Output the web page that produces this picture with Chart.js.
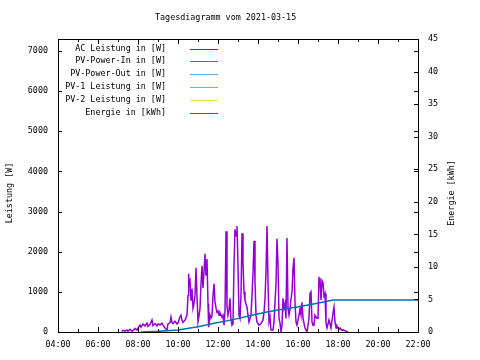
<!DOCTYPE html>
<html>
<head>
<meta charset="utf-8">
<title>Tagesdiagramm vom 2021-03-15</title>
<script src="https://cdn.jsdelivr.net/npm/chart.js@4"></script>
<style>
  html, body { margin: 0; padding: 0; background: #fff; }
</style>
</head>
<body>
<canvas id="myChart" width="480" height="360"></canvas>
<script>
// AC power readings (time of day, watts)
const acTimes = [
  '07:12', '07:15', '07:21', '07:27', '07:30', '07:36', '07:42', '07:48', '07:51', '07:57',
  '08:00', '08:06', '08:09', '08:15', '08:21', '08:27', '08:30', '08:36', '08:42', '08:45',
  '08:51', '08:57', '09:00', '09:06', '09:12', '09:15', '09:21', '09:27', '09:30', '09:36',
  '09:39', '09:42', '09:45', '09:51', '09:57', '10:00', '10:06', '10:09', '10:12', '10:15',
  '10:21', '10:27', '10:30', '10:32', '10:33', '10:36', '10:39', '10:42', '10:45', '10:48',
  '10:51', '10:54', '10:57', '11:00', '11:03', '11:06', '11:09', '11:12', '11:15', '11:18',
  '11:21', '11:24', '11:27', '11:30', '11:32', '11:36', '11:39', '11:42', '11:45', '11:48',
  '11:51', '11:54', '11:57', '12:00', '12:03', '12:06', '12:12', '12:15', '12:18', '12:21',
  '12:24', '12:27', '12:30', '12:33', '12:36', '12:39', '12:42', '12:45', '12:48', '12:51',
  '12:54', '12:57', '13:00', '13:03', '13:06', '13:09', '13:12', '13:15', '13:18', '13:21',
  '13:27', '13:30', '13:33', '13:39', '13:42', '13:45', '13:48', '13:51', '13:54', '13:57',
  '14:03', '14:09', '14:15', '14:18', '14:21', '14:24', '14:27', '14:30', '14:33', '14:36',
  '14:39', '14:45', '14:48', '14:51', '14:54', '14:57', '15:00', '15:03', '15:06', '15:09',
  '15:12', '15:15', '15:18', '15:21', '15:24', '15:27', '15:30', '15:33', '15:36', '15:39',
  '15:42', '15:45', '15:48', '15:51', '15:54', '15:57', '16:03', '16:06', '16:09', '16:12',
  '16:15', '16:21', '16:27', '16:30', '16:33', '16:36', '16:39', '16:42', '16:45', '16:48',
  '16:51', '16:57', '17:00', '17:03', '17:06', '17:09', '17:12', '17:15', '17:18', '17:21',
  '17:24', '17:27', '17:33', '17:39', '17:45', '17:48', '17:51', '17:54', '17:57', '18:03',
  '18:06', '18:12', '18:15', '18:21', '18:27', '18:30'
];
const acPower = [
  10, 40, 20, 50, 20, 70, 20, 60, 90, 50,
  100, 170, 120, 200, 150, 220, 140, 190, 300, 160,
  210, 150, 200, 180, 220, 170, 100, 50, 200, 230,
  370, 240, 210, 270, 200, 230, 380, 420, 300, 240,
  290, 420, 910, 1450, 1200, 1280, 800, 1080, 590, 700,
  900, 1600, 900, 250, 400, 590, 1200, 1650, 1100, 1500,
  1950, 1400, 1820, 700, 120, 420, 350, 400, 910, 1200,
  750, 600, 490, 520, 420, 480, 370, 420, 170, 500,
  2510, 650, 420, 550, 840, 300, 170, 200, 1650, 2560,
  2400, 2640, 1650, 420, 340, 910, 2460, 1720, 1000, 780,
  620, 420, 250, 420, 900, 1480, 2270, 1250, 420, 250,
  170, 210, 300, 490, 830, 1500, 2640, 1250, 250, 370,
  50, 50, 250, 740, 1200, 2320, 1720, 340, 220, 0,
  170, 840, 600, 700, 340, 2340, 600, 420, 560, 830,
  990, 1580, 1850, 740, 250, 170, 420, 580, 420, 740,
  340, 100, 0, 170, 340, 960, 1000, 250, 170, 170,
  420, 340, 340, 1350, 1330, 800, 1280, 1230, 900, 960,
  220, 100, 300, 100, 470, 620, 250, 100, 150, 60,
  100, 40, 60, 30, 10, 0
];

// accumulated energy (time of day, kWh)
const energyTimes = ['08:09', '09:00', '10:00', '11:00', '11:45', '12:45', '13:45', '14:30', '15:06', '16:06', '17:06', '17:45', '22:00'];
const energyValues = [0, 0.1, 0.3, 0.8, 1.3, 1.9, 2.6, 3.1, 3.4, 3.9, 4.5, 4.9, 4.9];

const timeLabels = ['04:00', '06:00', '08:00', '10:00', '12:00', '14:00', '16:00', '18:00', '20:00', '22:00'];
const powerTicks = [0, 1000, 2000, 3000, 4000, 5000, 6000, 7000];
const energyTicks = [0, 5, 10, 15, 20, 25, 30, 35, 40, 45];
const seriesNames = ['AC Leistung in [W]', 'PV-Power-In in [W]', 'PV-Power-Out in [W]', 'PV-1 Leistung in [W]', 'PV-2 Leistung in [W]', 'Energie in [kWh]'];
const seriesColors = ['#9400d3', '#009e73', '#56b4e9', '#e69f00', '#f0e442', '#0072b2'];
const chartTitle = 'Tagesdiagramm vom 2021-03-15';

const fontName = "'DejaVu Sans Mono', 'Liberation Mono', monospace";
const fontSize = 8.4;
Chart.defaults.font.family = fontName;
Chart.defaults.font.size = fontSize;
Chart.defaults.color = '#000';

function toHours(t) {
    const p = t.split(':');
    return Number(p[0]) + Number(p[1]) / 60;
}

function toPoints(times, values) {
    return times.map((t, i) => ({ x: toHours(t), y: values[i] }));
}

/**
 * gnuplot style frame: border, inward tics, title and rotated axis titles
 */
const gnuFrame = {
    id: 'gnuFrame',
    afterDraw(chart) {
        const ctx = chart.ctx;
        const a = chart.chartArea;
        const sx = chart.scales.x, sy = chart.scales.y, sy2 = chart.scales.y2;
        ctx.save();
        ctx.strokeStyle = '#000';
        ctx.lineWidth = 1;
        ctx.beginPath();
        for (let h = 4; h <= 22; h++) {
            const x = Math.round(sx.getPixelForValue(h)) + 0.5;
            const len = h % 2 === 0 ? 5 : 3;
            ctx.moveTo(x, a.bottom); ctx.lineTo(x, a.bottom - len);
            ctx.moveTo(x, a.top); ctx.lineTo(x, a.top + len);
        }
        powerTicks.forEach((v) => {
            const y = Math.round(sy.getPixelForValue(v)) + 0.5;
            ctx.moveTo(a.left, y); ctx.lineTo(a.left + 4, y);
            ctx.moveTo(a.right, y); ctx.lineTo(a.right - 4, y);
        });
        energyTicks.forEach((v) => {
            const y = Math.round(sy2.getPixelForValue(v)) + 0.5;
            ctx.moveTo(a.right, y); ctx.lineTo(a.right - 4, y);
        });
        ctx.stroke();
        ctx.strokeRect(Math.round(a.left) + 0.5, Math.round(a.top) + 0.5,
            Math.round(a.right - a.left), Math.round(a.bottom - a.top));

        ctx.fillStyle = '#000';
        ctx.font = fontSize + 'px ' + fontName;
        ctx.textAlign = 'left';
        ctx.textBaseline = 'middle';
        ctx.fillText(chartTitle, 155, 18);

        ctx.textAlign = 'center';
        ctx.translate(10, 193);
        ctx.rotate(-Math.PI / 2);
        ctx.fillText('Leistung [W]', 0, 0);
        ctx.rotate(Math.PI / 2);
        ctx.translate(442, 0);
        ctx.rotate(-Math.PI / 2);
        ctx.fillText('Energie [kWh]', 0, 0);
        ctx.restore();
    }
};

/**
 * gnuplot style key: right aligned text followed by a line sample
 */
const gnuLegend = {
    id: 'gnuLegend',
    afterDraw(chart) {
        const ctx = chart.ctx;
        const a = chart.chartArea;
        ctx.save();
        ctx.font = fontSize + 'px ' + fontName;
        ctx.textAlign = 'right';
        ctx.textBaseline = 'middle';
        chart.data.datasets.forEach((ds, i) => {
            const y = Math.round(a.top + 9.5 + i * 12.9);
            ctx.fillStyle = '#000';
            ctx.fillText(ds.label, a.left + 108, y);
            ctx.strokeStyle = ds.borderColor;
            ctx.lineWidth = 1;
            ctx.beginPath();
            ctx.moveTo(a.left + 132, y + 0.5);
            ctx.lineTo(a.left + 160, y + 0.5);
            ctx.stroke();
        });
        ctx.restore();
    }
};

const datasets = seriesNames.map((name, i) => ({
    label: name,
    data: [],
    borderColor: seriesColors[i],
    backgroundColor: seriesColors[i],
    borderWidth: 1.5,
    pointRadius: 0,
    tension: 0,
    fill: false,
    yAxisID: 'y',
    order: 1
}));
datasets[0].data = toPoints(acTimes, acPower);
datasets[5].data = toPoints(energyTimes, energyValues);
datasets[5].yAxisID = 'y2';
datasets[5].order = 0;

const myChart = new Chart('myChart', {
    type: 'line',
    data: { datasets: datasets },
    plugins: [gnuFrame, gnuLegend],
    options: {
        responsive: false,
        animation: false,
        devicePixelRatio: 1,
        layout: { padding: { top: 39 } },
        plugins: {
            legend: { display: false },
            tooltip: { enabled: false },
            title: { display: false }
        },
        scales: {
            x: {
                type: 'linear',
                min: 4,
                max: 22,
                grid: { display: false, drawTicks: false },
                border: { display: false },
                ticks: {
                    padding: 8,
                    maxRotation: 0,
                    autoSkip: false,
                    callback: (v) => timeLabels[(v - 4) / 2]
                },
                afterBuildTicks: (s) => { s.ticks = timeLabels.map((t, i) => ({ value: 4 + i * 2 })); },
                afterFit: (s) => { s.height = 28; }
            },
            y: {
                position: 'left',
                min: 0,
                max: 7300,
                grid: { display: false, drawTicks: false },
                border: { display: false },
                ticks: {
                    padding: 10,
                    autoSkip: false,
                    callback: (v) => String(v)
                },
                afterBuildTicks: (s) => { s.ticks = powerTicks.map((v) => ({ value: v })); },
                afterFit: (s) => { s.width = 58; }
            },
            y2: {
                position: 'right',
                min: 0,
                max: 45,
                grid: { display: false, drawTicks: false },
                border: { display: false },
                ticks: {
                    padding: 10,
                    autoSkip: false,
                    callback: (v) => String(v)
                },
                afterBuildTicks: (s) => { s.ticks = energyTicks.map((v) => ({ value: v })); },
                afterFit: (s) => { s.width = 62; }
            }
        }
    }
});
</script>
</body>
</html>
